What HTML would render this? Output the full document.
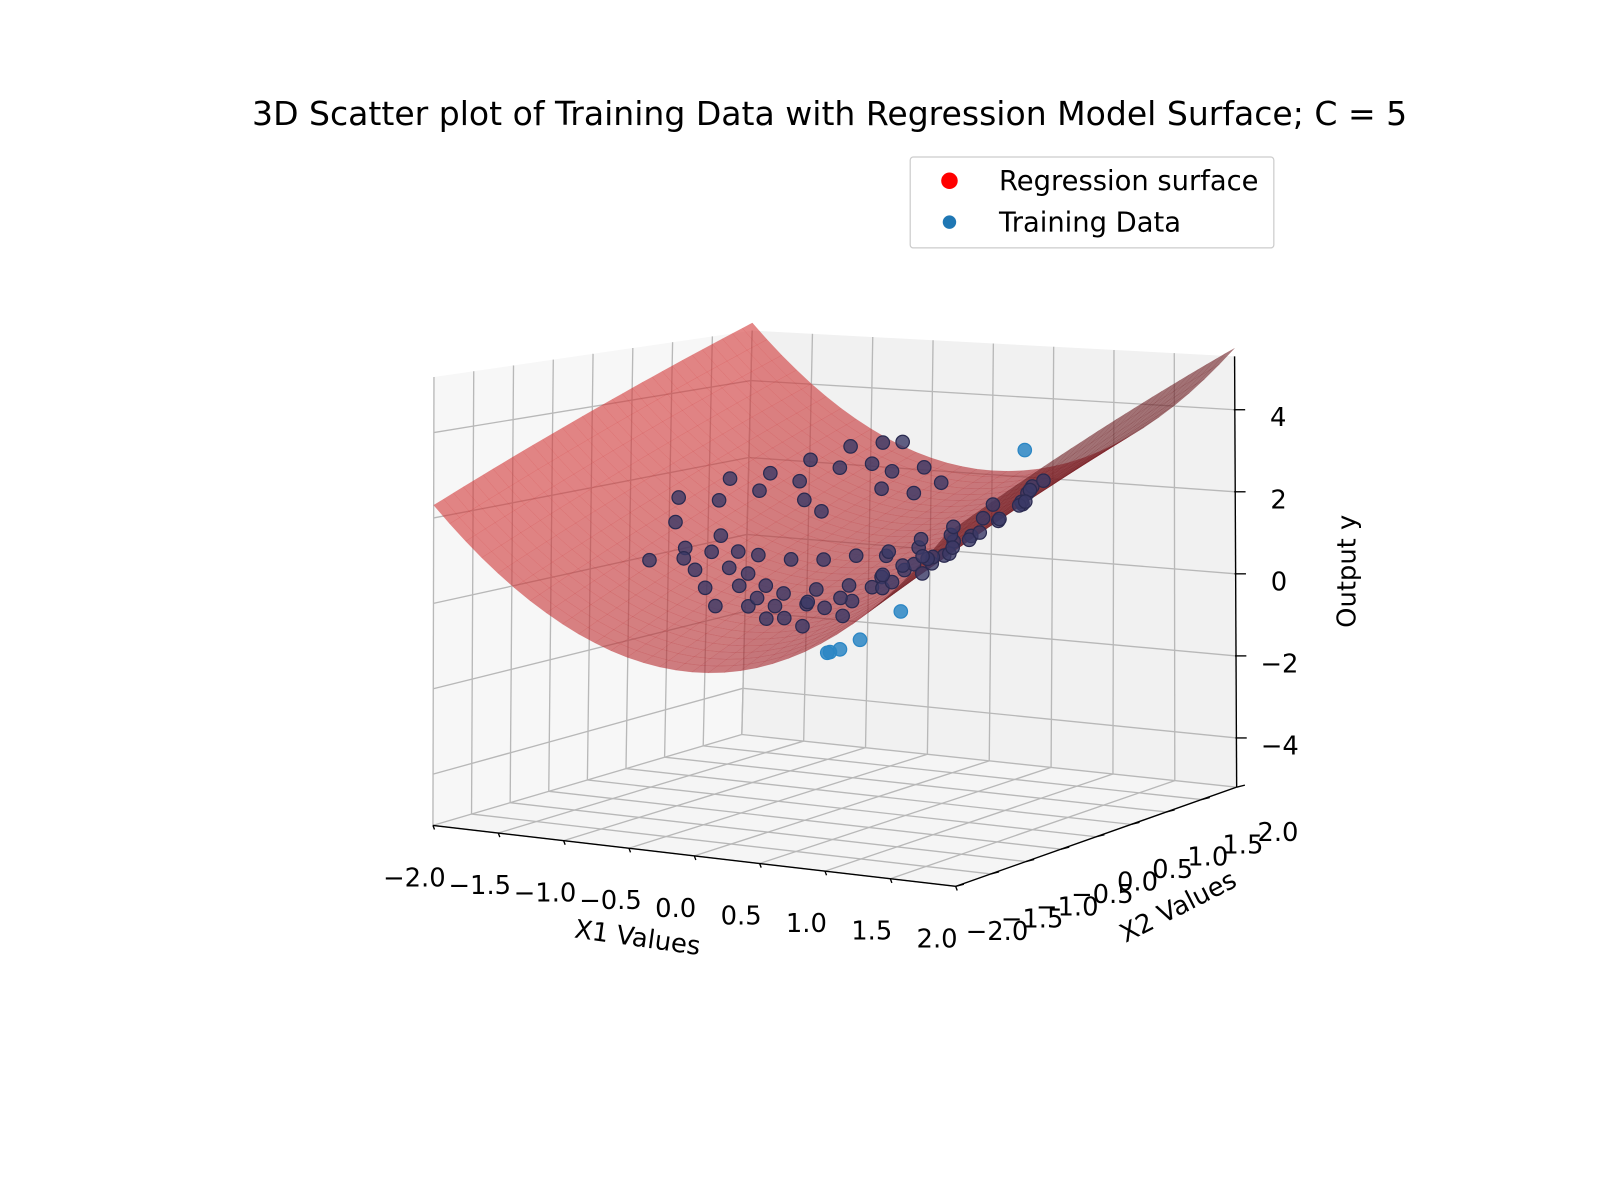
<!DOCTYPE html>
<html><head><meta charset="utf-8"><style>
html,body{margin:0;padding:0;background:#fff;}
svg{display:block;font-family:"DejaVu Sans","Liberation Sans",sans-serif;}
</style></head><body>
<svg id="chart" width="1620" height="1188" viewBox="0 0 1568 1150" xmlns="http://www.w3.org/2000/svg">
<rect width="1568" height="1150" fill="#fff"/>
<text x="803" y="121" font-size="32" text-anchor="middle" fill="#000">3D Scatter plot of Training Data with Regression Model Surface; C = 5</text>
<g id="panes"></g>
<g id="grid"></g>
<g id="surface"></g>
<g id="pts-back"></g>
<g id="pts-front"></g>
<g id="axes"></g>
<text x="617" y="916" font-size="25" text-anchor="middle" transform="rotate(8 617 908)">X1 Values</text>
<text x="1140" y="886" font-size="25" text-anchor="middle" transform="rotate(-27 1140 877)">X2 Values</text>
<text x="1312" y="553" font-size="25" text-anchor="middle" transform="rotate(-90 1312 553)">Output y</text>
<g>
<rect x="881" y="152" width="352" height="88" rx="3" fill="#fff" stroke="#ccc" stroke-width="1.2"/>
<circle cx="919" cy="175" r="8" fill="#ff0000"/>
<text x="967" y="184" font-size="26.5">Regression surface</text>
<circle cx="919" cy="215" r="6.5" fill="#1f77b4"/>
<text x="967" y="224" font-size="26.5">Training Data</text>
</g>
</svg>
<script>
const x1Vals=[-0.8,-0.6,-0.5,-0.4,-0.3,-0.7,-0.2,-0.1,0.0,0.1,-0.9,-1.0,-1.1,-1.2,-0.6,-0.4,0.2,-0.3,
-0.8,-0.6,-0.4,-0.2,0.0,0.2,0.4,0.6,0.8,1.0,1.1,1.2,0.9,0.7,0.5,0.3,0.1,-0.1,-0.3,-0.5,-0.7,-0.9,-1.0,-1.1,-1.2,-1.3,
0.2,0.4,0.6,0.8,1.0,1.2,0.5,0.7,0.9,1.1,0.3,0.5,0.7,0.9,1.1,1.05,1.15,1.0,0.8,0.6,0.4,0.2,0.0,-0.2,-0.4,-0.6,1.25,1.15,1.05,0.95,0.85,0.75,0.65,0.55,0.45,0.35,0.15,-0.05,-0.25,-0.45,-0.65,-0.85,-0.95,1.1,1.15,1.3,
0.75,0.7,0.85,0.65,1.0,1.0];
const x2Vals=[0.9,1.1,0.8,1.2,0.9,0.6,1.0,0.7,1.1,0.8,0.4,0.7,0.2,0.5,0.5,0.4,1.0,1.3,
-0.6,-0.8,-1.0,-0.9,-1.0,-0.8,-0.9,-0.6,-0.5,-0.3,-0.1,0.1,0.0,-0.2,-0.3,-0.4,-0.5,-0.6,-0.5,-0.4,-0.2,-0.1,-0.4,-0.7,-0.2,0.0,
-1.1,-1.2,-1.0,-0.8,-0.6,-0.3,-0.7,-0.5,-0.3,-0.4,0.1,0.2,0.3,0.4,0.6,0.75,0.5,0.9,0.7,0.5,0.4,0.3,0.2,0.1,0.0,-0.1,0.3,0.2,0.1,-0.1,-0.2,-0.1,0.0,-0.1,-0.2,-0.6,-0.7,-0.8,-0.7,-0.6,-0.4,-0.3,-0.5,0.7,0.8,0.3,
-1.3,-1.35,-1.2,-1.3,-0.9,0.8];
const yVals=[2.6,2.9,2.5,3.0,2.6,2.2,2.4,2.1,2.5,2.0,2.0,2.3,1.8,2.2,1.8,1.6,2.2,3.0,
0.5,0.2,-0.1,-0.1,-0.3,0.0,0.0,0.4,0.8,1.1,1.5,1.8,1.3,0.8,0.5,0.3,0.2,0.1,0.2,0.4,0.8,1.1,0.9,0.7,1.4,1.9,
-0.2,-0.3,-0.1,0.5,0.8,1.5,0.1,0.5,0.9,1.2,0.8,1.0,1.3,1.7,2.0,2.2,2.1,2.3,1.9,1.4,1.1,0.8,0.7,0.6,0.6,0.7,2.1,1.8,1.5,1.2,1.0,0.9,0.9,0.7,0.5,0.1,0.0,-0.1,0.0,0.2,0.5,0.8,0.7,2.3,2.5,2.2,
-0.7,-0.75,-0.5,-0.8,0.05,3.2];
const x1Ticks=[-2,-1.5,-1,-0.5,0,0.5,1,1.5,2];
const x2Ticks=[-2,-1.5,-1,-0.5,0,0.5,1,1.5,2];
const zTicks=[-4,-2,0,2,4];
const surfCoef=[0.85,0.8,0.5]; // y = a*x1^2 + b*x2 + c

const ZMIN=-5.2,ZMAX=5.3;
const C={b000:[419,799],b100:[925,858],b010:[718,711],b110:[1197,762],
 t000:[420,365],t100:[912,381],t010:[728,320],t110:[1195,345]};
function lerp(a,b,t){return [a[0]+(b[0]-a[0])*t,a[1]+(b[1]-a[1])*t];}
function proj(x1,x2,z){
 const u=(x1+2)/4,v=(x2+2)/4,w=(z-ZMIN)/(ZMAX-ZMIN);
 const bf=lerp(C.b000,C.b100,u),bb=lerp(C.b010,C.b110,u),b=lerp(bf,bb,v);
 const tf=lerp(C.t000,C.t100,u),tb=lerp(C.t010,C.t110,u),t=lerp(tf,tb,v);
 return lerp(b,t,w);
}
function surf(a,b){return surfCoef[0]*a*a+surfCoef[1]*b+surfCoef[2];}
const NS='http://www.w3.org/2000/svg';
function mk(tag,attrs,parent){const e=document.createElementNS(NS,tag);for(const k in attrs)e.setAttribute(k,attrs[k]);parent.appendChild(e);return e;}
function pts(arr){return arr.map(p=>p[0].toFixed(1)+','+p[1].toFixed(1)).join(' ');}

const panes=document.getElementById('panes');
let e=mk('polygon',{points:pts([proj(-2,-2,ZMIN),proj(-2,2,ZMIN),proj(-2,2,ZMAX),proj(-2,-2,ZMAX)]),fill:'#f7f7f7'},panes);


e=mk('polygon',{points:pts([proj(-2,2,ZMIN),proj(2,2,ZMIN),proj(2,2,ZMAX),proj(-2,2,ZMAX)]),fill:'#f1f1f1'},panes);


e=mk('polygon',{points:pts([proj(-2,-2,ZMIN),proj(2,-2,ZMIN),proj(2,2,ZMIN),proj(-2,2,ZMIN)]),fill:'#f5f5f5'},panes);



const grid=document.getElementById('grid');
function gl(a,b,name){const l=mk('line',{x1:a[0],y1:a[1],x2:b[0],y2:b[1],stroke:'#b8b8b8','stroke-width':1.3},grid);
 
 }
x1Ticks.forEach(t=>{gl(proj(t,-2,ZMIN),proj(t,2,ZMIN),'floor-grid-x1');gl(proj(t,2,ZMIN),proj(t,2,ZMAX),'back-grid-x1');});
x2Ticks.forEach(t=>{gl(proj(-2,t,ZMIN),proj(2,t,ZMIN),'floor-grid-x2');gl(proj(-2,t,ZMIN),proj(-2,t,ZMAX),'left-grid-x2');});
zTicks.forEach(t=>{gl(proj(-2,-2,t),proj(-2,2,t),'left-grid-z');gl(proj(-2,2,t),proj(2,2,t),'back-grid-z');});

const sg=document.getElementById('surface');
const N=32,quads=[];
for(let i=0;i<N;i++)for(let j=0;j<N;j++){
 const a0=-2+4*i/N,a1=-2+4*(i+1)/N,b0=-2+4*j/N,b1=-2+4*(j+1)/N;
 const P=[proj(a0,b0,surf(a0,b0)),proj(a1,b0,surf(a1,b0)),proj(a1,b1,surf(a1,b1)),proj(a0,b1,surf(a0,b1))];
 let area=0;for(let k=0;k<4;k++){const p=P[k],q=P[(k+1)%4];area+=p[0]*q[1]-q[0]*p[1];}
 const slope=2*surfCoef[0]*(a0+a1)/2;
 quads.push({P,depth:(b0+b1)/2,area,slope});
}
quads.sort((p,q)=>q.depth-p.depth);
quads.forEach(q=>{
 let col;
 if(q.area>0){col='rgb(110,30,35)';}
 else{const s=Math.max(0,Math.min(1,(q.slope+3)/6));const r=Math.round(210-70*s),g=Math.round(55-30*s),b=Math.round(55-20*s);col='rgb('+r+','+g+','+b+')';}
 const pg=mk('polygon',{points:pts(q.P),fill:col,'fill-opacity':0.6,stroke:col,'stroke-opacity':0.25,'stroke-width':0.4},sg);
 
 
});

const back=document.getElementById('pts-back'),front=document.getElementById('pts-front');
for(let i=0;i<x1Vals.length;i++){
 const p=proj(x1Vals[i],x2Vals[i],yVals[i]);
 const isFront=(yVals[i]-surf(x1Vals[i],x2Vals[i]))<-0.5||yVals[i]>3.1;
 const c=mk('circle',{cx:p[0].toFixed(1),cy:p[1].toFixed(1),r:6.5,fill:isFront?'#2b86c4':'#3b3a66','fill-opacity':isFront?0.85:0.8,stroke:isFront?'#2b86c4':'#2a2a50','stroke-width':1.2},isFront?front:back);
 
 
}

const ax=document.getElementById('axes');
function al(a,b,name){const l=mk('line',{x1:a[0],y1:a[1],x2:b[0],y2:b[1],stroke:'#000','stroke-width':1.3},ax);
 
 }
function tx(p,s,name,anchor){const t=mk('text',{x:p[0].toFixed(1),y:p[1].toFixed(1),'font-size':25,'text-anchor':anchor||'middle'},ax);t.textContent=s;
 
 }
function fmt(v){return (v<0?'\u2212':'')+Math.abs(v).toFixed(1);}
al(proj(-2,-2,ZMIN),proj(2,-2,ZMIN),'x1-axis-line');
al(proj(2,-2,ZMIN),proj(2,2,ZMIN),'x2-axis-line');
al(proj(2,2,ZMIN),proj(2,2,ZMAX),'z-axis-line');
x1Ticks.forEach(t=>{const p=proj(t,-2,ZMIN);al(p,[p[0]+1.5,p[1]+4],'x1-tick');tx([p[0]-18,p[1]+59],fmt(t),'x1-tick-label');});
x2Ticks.forEach(t=>{const p=proj(2,t,ZMIN);al(p,[p[0]+8,p[1]-2],'x2-tick');tx([p[0]+40,p[1]+52],fmt(t),'x2-tick-label');});
zTicks.forEach(t=>{const p=proj(2,2,t);al([p[0]-1,p[1]],[p[0]+10,p[1]],'z-tick');tx([p[0]+42,p[1]+16],t<0?'\u2212'+Math.abs(t):String(t),'z-tick-label','middle');});
</script>
</body></html>
